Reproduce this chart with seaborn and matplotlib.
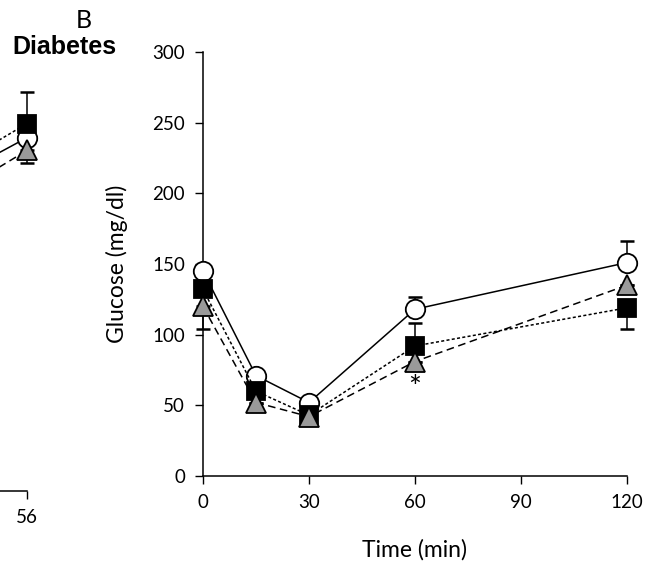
import numpy as np
import pandas as pd
import matplotlib
matplotlib.use("Agg")
import matplotlib.pyplot as plt
import seaborn as sns

# ========== data ==========
time = [0, 15, 30, 60, 120]
groups = ["circle", "square", "triangle"]
glucose_circle = [145, 71, 52, 118, 151]
glucose_square = [132, 60, 43, 92, 119]
glucose_triangle = [120, 52, 42, 81, 135]
# one-sided error bars (lower, upper)
err_circle = [[0, 0, 0, 0, 0], [0, 4, 0, 9, 15]]
err_square = [[0, 0, 0, 0, 15], [0, 0, 0, 16, 0]]
err_triangle = [[16, 0, 0, 0, 0], [0, 0, 0, 0, 0]]
star_time, star_value = 60, 62

# left (cropped) panel, only its last points are visible
left_time = [28, 56]
left_circle = [200, 250]
left_square = [205, 260]
left_triangle = [185, 241]
left_err_square = [[0, 0], [0, 22]]
left_err_triangle = [[0, 9], [0, 0]]

# ========== style ==========
sns.set_style("ticks")
plt.rcParams['font.family'] = ['Lato', 'DejaVu Sans']
plt.rcParams['text.color'] = 'black'
plt.rcParams['axes.labelcolor'] = 'black'
plt.rcParams['xtick.color'] = 'black'
plt.rcParams['ytick.color'] = 'black'

styles = {
    "circle": dict(marker="o", mfc="white", ms=14, dashes=None),
    "square": dict(marker="s", mfc="black", ms=13, dashes=(2, 1.5)),
    "triangle": dict(marker="^", mfc="#9a9a9a", ms=14, dashes=(5, 3)),
}

fig = plt.figure(figsize=(6.55, 5.63), dpi=100)


def draw(ax, t, series, errs):
    for name, y, e in zip(groups, series, errs):
        st = styles[name]
        df = pd.DataFrame({"t": t, "y": y})
        if e is not None:
            ax.errorbar(t, y, yerr=e, fmt="none", ecolor="black", elinewidth=1.1,
                        capsize=5, capthick=1.8, zorder=2, clip_on=False)
        kw = dict(color="black", lw=1.1, marker=st["marker"], markersize=st["ms"],
                  markerfacecolor=st["mfc"], markeredgecolor="black",
                  markeredgewidth=1.3, clip_on=False, zorder=3)
        if st["dashes"] is not None:
            kw["dashes"] = st["dashes"]
        sns.lineplot(data=df, x="t", y="y", ax=ax, **kw)


# ========== main panel ==========
ax = fig.add_axes([203 / 655, 1 - 476 / 563, 424 / 655, 424 / 563])
draw(ax, time, [glucose_circle, glucose_square, glucose_triangle],
     [err_circle, err_square, err_triangle])
ax.text(star_time, star_value, "*", ha="center", va="center", fontsize=22)
ax.set_xlim(0, 120)
ax.set_ylim(0, 300)
ax.set_xticks([0, 30, 60, 90, 120])
ax.set_yticks([0, 50, 100, 150, 200, 250, 300])
ax.tick_params(direction="out", length=6, width=1, labelsize=13.5, pad=7)
ax.set_xlabel("Time (min)", fontsize=16.5, labelpad=20)
ax.set_ylabel("Glucose (mg/dl)", fontsize=16.5, labelpad=17)
sns.despine(ax=ax)
for s in ["left", "bottom"]:
    ax.spines[s].set_linewidth(1.1)
    ax.spines[s].set_color("black")

# ========== left (cropped) panel ==========
axl = fig.add_axes([27 / 655 - 0.4, 1 - 491 / 563, 0.4, 424 / 563])
draw(axl, left_time, [left_circle, left_square, left_triangle],
     [None, left_err_square, left_err_triangle])
axl.set_xlim(0, 56)
axl.set_ylim(0, 300)
axl.set_xticks([56])
axl.set_yticks([])
axl.tick_params(direction="out", length=6, width=1, labelsize=13.5, pad=7)
axl.set_xlabel("")
axl.set_ylabel("")
sns.despine(ax=axl, left=True)
axl.spines["bottom"].set_linewidth(1.1)
axl.spines["bottom"].set_color("black")

fig.text(84 / 655, 1 - 20 / 563, "B", ha="center", va="center", fontsize=18)
fig.text(64 / 655, 1 - 47 / 563, "Diabetes", ha="center", va="center",
         fontsize=18, fontweight="bold", family=["Liberation Sans", "DejaVu Sans"])

fig.savefig("out.png", dpi=100)
